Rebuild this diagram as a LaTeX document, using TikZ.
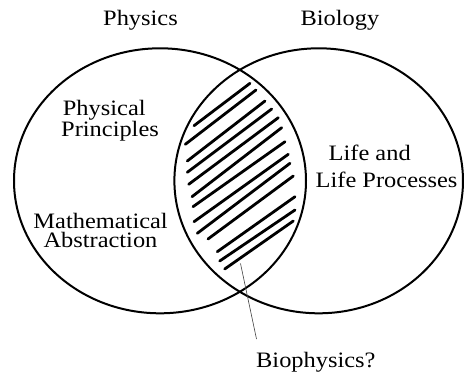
\documentclass[tikz,border=0pt]{standalone}
\usepackage{fontspec}
\setmainfont{Liberation Serif}[FakeStretch=1.11]
\begin{document}
\begin{tikzpicture}[x=1pt,y=-1pt,
  ring/.style={line width=2pt},
  hatch/.style={line width=2.8pt,line cap=round},
  pointer/.style={line width=0.6pt,draw=black!75},
  lbl/.style={inner sep=0pt,font=\fontsize{22}{22}\selectfont}]
\useasboundingbox (0,0) rectangle (464,375);
\fill[white] (0,0) rectangle (464,375);
% circles
\draw[ring] (160,180.8) ellipse [x radius=146, y radius=132.5];
\draw[ring] (318.7,180.8) ellipse [x radius=144.3, y radius=132.5];
% hatching
\foreach \ax/\ay/\bx/\by in {
  194/125.7/250/83.3,
  185.3/144.3/256/90,
  187.3/161/265/101,
  187.3/172.3/271.7/109,
  188.7/184.3/278.3/117.7,
  192/196.7/281.7/127.7,
  193/206.7/285/141.7,
  194/221.7/288.3/154.3,
  197.3/233.3/290/163.3,
  208/239/293.3/176,
  217.3/251.7/295/196.7,
  219.7/261/295/210,
  224.7/269/293.3/221}
  \draw[hatch] (\ax,\ay) -- (\bx,\by);
% labels
\node[lbl,anchor=base] (phys) at (140.5,25.5) {Physics};
\node[lbl,anchor=base] (bio) at (340,25.5) {Biology};
\node[lbl,anchor=base west] (pp1) at (62.7,115) {Physical};
\node[lbl,anchor=base west] (pp2) at (61,136.7) {Principles};
\node[lbl,anchor=base west] (ma1) at (33.3,228) {Mathematical};
\node[lbl,anchor=base west] (ma2) at (43.3,247.3) {Abstraction};
\node[lbl,anchor=base west] (la1) at (328.5,160) {Life and};
\node[lbl,anchor=base west] (la2) at (315.5,187.7) {Life Processes};
\node[lbl,anchor=base west] (bp) at (256,367) {Biophysics?};
% pointer
\coordinate (ptop) at (240.5,263.5);
\coordinate (pbot) at (256.5,339);
\draw[pointer] (ptop) -- (pbot);
\end{tikzpicture}
\end{document}
